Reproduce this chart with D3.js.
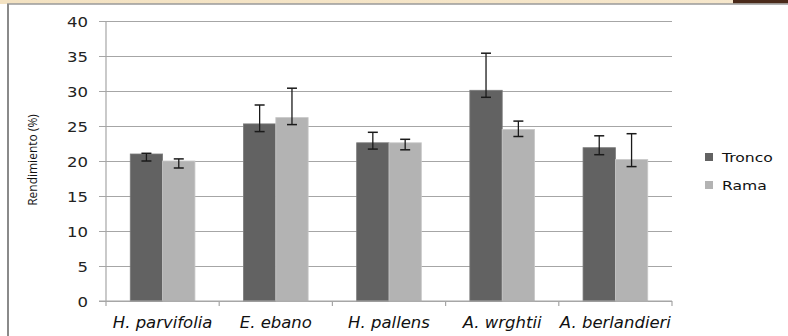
<!DOCTYPE html>
<html><head><meta charset="utf-8">
<script src="https://cdn.jsdelivr.net/npm/d3@7"></script>
<style>
html,body{margin:0;padding:0;background:#fff;}
svg{display:block;}
</style></head><body>
<svg id="c" width="788" height="336"></svg>
<script>
const categories = ["H. parvifolia", "E. ebano", "H. pallens", "A. wrghtii", "A. berlandieri"];
const seriesNames = ["Tronco", "Rama"];
const tronco = [21.0, 25.3, 22.6, 30.1, 21.9];
const troncoLo = [20.0, 24.2, 21.7, 29.1, 20.9];
const troncoHi = [21.1, 28.0, 24.1, 35.4, 23.6];
const rama = [20.0, 26.2, 22.6, 24.5, 20.2];
const ramaLo = [19.0, 25.2, 21.6, 23.5, 19.2];
const ramaHi = [20.3, 30.4, 23.1, 25.7, 23.9];
const yTicks = [0, 5, 10, 15, 20, 25, 30, 35, 40];
const colors = ["#626262", "#b3b3b3"];

const svg = d3.select("#c");
const font = "'DejaVu Sans', sans-serif";

// frame decorations
const bg = svg.append("defs").append("linearGradient").attr("id","g").attr("x1","0").attr("x2","1");
bg.append("stop").attr("offset","0").attr("stop-color","#f3e2c2");
bg.append("stop").attr("offset","1").attr("stop-color","#f6e7cc");
svg.append("rect").attr("x",0).attr("y",0).attr("width",788).attr("height",4).attr("fill","url(#g)");
svg.append("rect").attr("x",733).attr("y",0).attr("width",55).attr("height",3.5).attr("fill","#4a2a1a");
svg.append("line").attr("x1",7).attr("x2",788).attr("y1",4).attr("y2",4).attr("stroke","#9a9a9a").attr("stroke-width",1.5);
svg.append("line").attr("x1",8).attr("x2",8).attr("y1",4).attr("y2",336).attr("stroke","#8a8a8a").attr("stroke-width",2);

const data = categories.map((c,i)=>({cat:c, vals:[
  {s:0, v:tronco[i], lo:troncoLo[i], hi:troncoHi[i]},
  {s:1, v:rama[i], lo:ramaLo[i], hi:ramaHi[i]}]}));

const x = d3.scaleBand().domain(categories).range([106, 672]).paddingInner(0).paddingOuter(0);
const xs = d3.scaleBand().domain([0,1]).range([0, x.bandwidth()]).paddingInner(0).paddingOuter(0.75);
const y = d3.scaleLinear().domain([0, 40]).range([301, 21]);

// gridlines
const yAxis = d3.axisLeft(y).tickValues(yTicks).tickSize(-(672-99)).tickFormat("");
const ga = svg.append("g").attr("transform","translate(99,0)").call(yAxis);
ga.select(".domain").remove();
ga.selectAll(".tick line").attr("stroke","#a6a6a6").attr("stroke-width",1.2);
ga.selectAll(".tick text").remove();
ga.selectAll(".tick").append("text")
  .attr("transform","translate(-11,0) scale(1.18,1)")
  .attr("text-anchor","end").attr("dy","0.36em")
  .attr("font-family",font).attr("font-size",14).attr("fill","#222")
  .text(d=>d3.format("d")(d));

// y axis line
svg.append("line").attr("x1",106).attr("x2",106).attr("y1",21).attr("y2",301).attr("stroke","#a6a6a6").attr("stroke-width",1.2);

// bars
const grp = svg.append("g").selectAll("g").data(data).join("g").attr("transform",d=>`translate(${x(d.cat)},0)`);
grp.selectAll("rect").data(d=>d.vals).join("rect")
  .attr("x",d=>xs(d.s)).attr("width",xs.bandwidth())
  .attr("y",d=>y(d.v)).attr("height",d=>y(0)-y(d.v))
  .attr("fill",d=>colors[d.s]).attr("stroke",d=>d.s===0?"#7a7a7a":"#c8c8c8").attr("stroke-width",0.8);

// error bars
const eb = grp.selectAll("g.eb").data(d=>d.vals).join("g").attr("class","eb")
  .attr("transform",d=>`translate(${xs(d.s)+xs.bandwidth()/2},0)`);
eb.append("line").attr("y1",d=>y(d.lo)).attr("y2",d=>y(d.hi)).attr("stroke","#1a1a1a").attr("stroke-width",1.3);
eb.append("line").attr("x1",-5).attr("x2",5).attr("y1",d=>y(d.lo)).attr("y2",d=>y(d.lo)).attr("stroke","#1a1a1a").attr("stroke-width",1.5);
eb.append("line").attr("x1",-5).attr("x2",5).attr("y1",d=>y(d.hi)).attr("y2",d=>y(d.hi)).attr("stroke","#1a1a1a").attr("stroke-width",1.5);

// x axis
const xAxis = d3.axisBottom(x).tickSize(0).tickFormat("");
const gx = svg.append("g").attr("transform","translate(0,301)").call(xAxis);
gx.select(".domain").remove();
gx.selectAll(".tick text").remove();
gx.selectAll(".tick").append("text")
  .attr("transform","translate(0,27) scale(1.1,1)")
  .attr("text-anchor","middle")
  .attr("font-family",font).attr("font-size",15).attr("font-style","italic").attr("fill","#111")
  .text(d=>d);
svg.append("line").attr("x1",99).attr("x2",672).attr("y1",301).attr("y2",301).attr("stroke","#a6a6a6").attr("stroke-width",1.2);
const bounds = categories.map(c=>x(c)).concat([x(categories[categories.length-1])+x.bandwidth()]);
svg.append("g").selectAll("line").data(bounds).join("line")
  .attr("x1",d=>d).attr("x2",d=>d).attr("y1",301).attr("y2",306).attr("stroke","#a6a6a6").attr("stroke-width",1.2);

// y title
svg.append("text").attr("transform","translate(37,160) rotate(-90)").attr("text-anchor","middle")
  .attr("font-family","'Open Sans', sans-serif").attr("font-size",12).attr("fill","#111").text("Rendimiento (%)");

// legend
const lg = svg.append("g").selectAll("g").data(seriesNames).join("g")
  .attr("transform",(d,i)=>`translate(705,${157+i*28})`);
lg.append("rect").attr("x",0).attr("y",-4).attr("width",8).attr("height",8).attr("fill",(d,i)=>colors[i]);
lg.append("text").attr("transform","translate(17,0) scale(1.25,1)").attr("dy","0.36em")
  .attr("font-family",font).attr("font-size",12.5).attr("fill","#111").text(d=>d);
</script>
</body></html>
